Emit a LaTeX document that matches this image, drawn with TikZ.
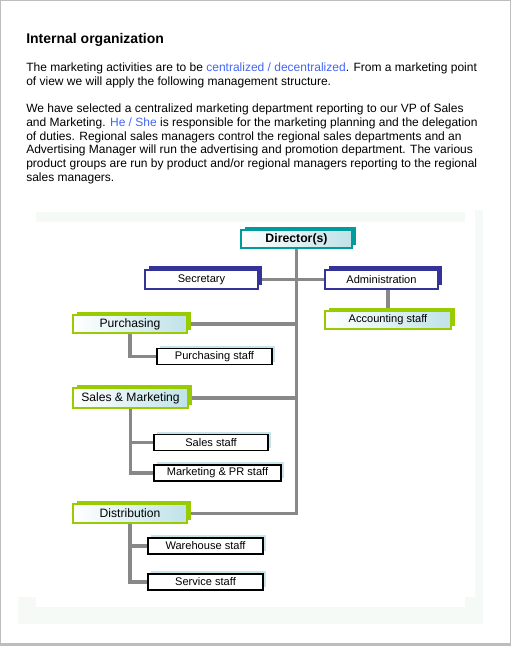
\documentclass[tikz,border=0pt]{standalone}
\usepackage{fontspec}
\setmainfont{Liberation Sans}
\usetikzlibrary{shadows,backgrounds}

\definecolor{dirteal}{HTML}{009C9C}
\definecolor{navyblue}{HTML}{333399}
\definecolor{leafgreen}{HTML}{99CC00}
\definecolor{paleblue}{HTML}{BFE2E8}
\definecolor{staffblue}{HTML}{C6E4EA}
\definecolor{linegray}{HTML}{888888}
\definecolor{linkblue}{HTML}{4466F5}
\definecolor{pagegray}{HTML}{BDBDBD}
\definecolor{faint}{HTML}{F6FAF7}

\tikzset{
  wd/.style={minimum width=#1*0.75pt},
  ht/.style={minimum height=#1*0.75pt},
  para/.style={anchor=north west, inner sep=0pt, align=left, font=\fontsize{9}{10.25}\selectfont},
  orgbox/.style={inner sep=0pt, font=\fontsize{8.3}{10}\selectfont},
  dirbox/.style={orgbox, draw=dirteal, line width=1.1pt, left color=white, right color=paleblue,
    font=\bfseries\fontsize{9.2}{11}\selectfont,
    general shadow={fill=dirteal, shadow xshift=3pt, shadow yshift=2.25pt}},
  officebox/.style={orgbox, draw=navyblue, line width=1.1pt, fill=white,
    general shadow={fill=navyblue, shadow xshift=3pt, shadow yshift=3pt}},
  groupbox/.style={orgbox, draw=leafgreen, line width=1.1pt, left color=white, right color=paleblue,
    general shadow={fill=leafgreen, shadow xshift=3pt, shadow yshift=2.25pt}},
  headbox/.style={groupbox, font=\fontsize{9.1}{11}\selectfont},
  staffbox/.style={orgbox, draw=black, line width=0.8pt, fill=white, ht=16,
    general shadow={fill=staffblue, shadow xshift=2.25pt, shadow yshift=2pt}},
  conn/.style={draw=linegray, line width=2.4pt}
}

\begin{document}
\begin{tikzpicture}[x=0.75pt, y=-0.75pt]
\useasboundingbox (0,0) rectangle (511,646);

\begin{pgfonlayer}{background}
  % page and chart background
  \fill[pagegray] (0,0) rectangle (511,646);
  \fill[white] (1,1) rectangle (510,643);
  \fill[faint] (36,212) rectangle (465,222);
  \fill[faint] (475,210) rectangle (483,597);
  \fill[faint] (18,597) rectangle (483,624);
  \fill[white] (36,597) rectangle (465,607);
\end{pgfonlayer}

% text
\node[anchor=base west, inner sep=0pt, font=\bfseries\fontsize{10.5}{12}\selectfont] (title) at (26,43.3) {Internal organization};
\node[para] (intro) at (26,63) {The marketing activities are to be \textcolor{linkblue}{centralized / decentralized}. From a marketing point\\of view we will apply the following management structure.};
\node[para] (body) at (26,104) {We have selected a centralized marketing department reporting to our VP of Sales\\and Marketing. \textcolor{linkblue}{He / She} is responsible for the marketing planning and the delegation\\of duties. Regional sales managers control the regional sales departments and an\\Advertising Manager will run the advertising and promotion department. The various\\product groups are run by product and/or regional managers reporting to the regional\\sales managers.};

% top level
\node[dirbox, wd=111, ht=18] (dir) at (296.5,239) {Director(s)};
\node[officebox, wd=113, ht=19] (sec) at (201.5,279.5) {Secretary};
\node[officebox, wd=113, ht=19] (admin) at (381.5,279.5) {Administration};
\node[groupbox, wd=126, ht=18] (acct) at (388,320) {Accounting staff};

% departments
\node[headbox, wd=114, ht=18] (purch) at (130,324) {Purchasing};
\node[staffbox, wd=115] (purchstaff) at (214.5,356.5) {Purchasing staff};

\node[headbox, wd=115, ht=20] (sales) at (130.5,398) {Sales \& Marketing};
\node[staffbox, wd=114] (salesstaff) at (211,442.5) {Sales staff};
\node[staffbox, wd=127] (mktstaff) at (217.5,473) {Marketing \& PR staff};

\node[headbox, wd=114, ht=19] (dist) at (130,513.5) {Distribution};
\node[staffbox, wd=115] (whstaff) at (205.5,546) {Warehouse staff};
\node[staffbox, wd=115] (servstaff) at (205.5,582) {Service staff};

\begin{pgfonlayer}{background}
  \draw[conn] (dir.south) |- (dist.east);
  \draw[conn] (sec.east) -- (admin.west);
  \draw[conn] (acct.north) -- (acct.north |- admin.south);
  \draw[conn] (purch.east) -- (purch.east -| dir.south);
  \draw[conn] (sales.east) -- (sales.east -| dir.south);
  \draw[conn] (purch.south) |- (purchstaff.west);
  \draw[conn] (sales.south) |- (mktstaff.west);
  \draw[conn] (salesstaff.west) -- (salesstaff.west -| sales.south);
  \draw[conn] (dist.south) |- (servstaff.west);
  \draw[conn] (whstaff.west) -- (whstaff.west -| dist.south);
\end{pgfonlayer}

\end{tikzpicture}
\end{document}
